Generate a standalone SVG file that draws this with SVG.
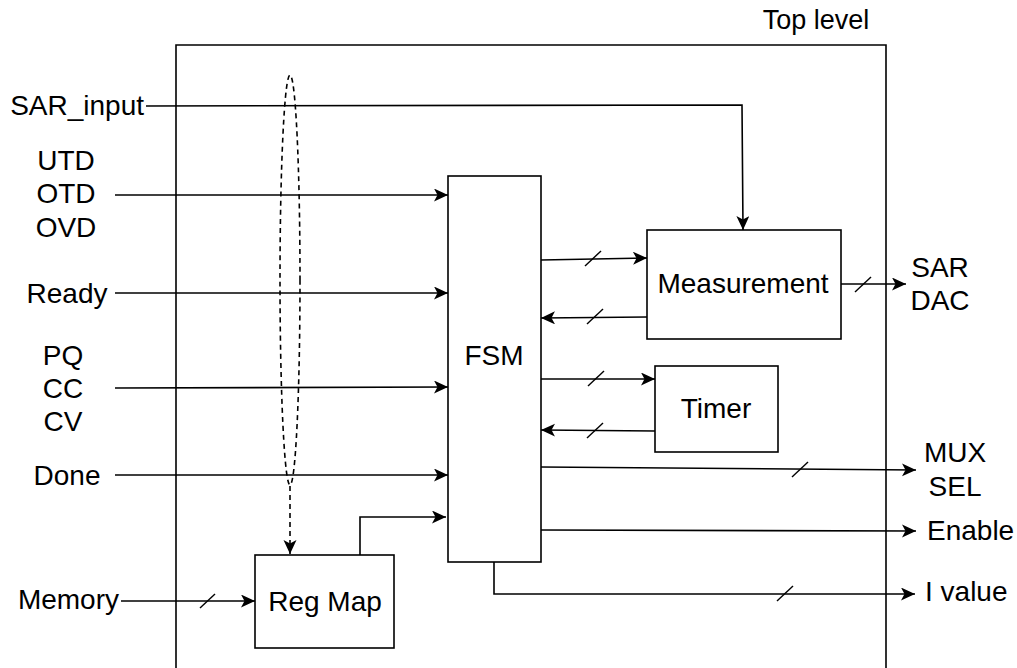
<svg xmlns="http://www.w3.org/2000/svg" width="1017" height="668" viewBox="0 0 1017 668">
  <style>
    .box { fill: #ffffff; stroke: #000000; stroke-width: 1.6; }
    .frame { fill: none; stroke: #000000; stroke-width: 1.6; }
    .wire { fill: none; stroke: #000000; stroke-width: 1.6; }
    .arrow { marker-end: url(#head); }
    .dash { stroke-dasharray: 5 4; }
    .bus { stroke: #000000; stroke-width: 1.4; }
    text { font-family: "Liberation Sans", Arial, sans-serif; font-size: 28px; fill: #000000; }
    .c { text-anchor: middle; }
    .e { text-anchor: end; }
  </style>
  <defs>
    <marker id="head" markerUnits="userSpaceOnUse" markerWidth="15" markerHeight="14" refX="14" refY="6.5" orient="auto">
      <path d="M0,0 L14,6.5 L0,13 L3.5,6.5 Z" fill="#000000"/>
    </marker>
  </defs>

  <!-- enclosing top-level block -->
  <g id="top-level">
    <path class="frame" d="M176,668 L176,45 L886,45 L886,668"/>
    <text class="c" x="816" y="29" style="font-size:27px">Top level</text>
  </g>

  <!-- external port labels -->
  <g id="port-sar-input"><text class="e" x="144" y="115">SAR_input</text></g>
  <g id="port-temp">
    <text class="c" x="66" y="170">UTD</text>
    <text class="c" x="66" y="203">OTD</text>
    <text class="c" x="66" y="237">OVD</text>
  </g>
  <g id="port-ready"><text class="c" x="67" y="303">Ready</text></g>
  <g id="port-mode">
    <text class="c" x="63" y="365">PQ</text>
    <text class="c" x="63" y="398">CC</text>
    <text class="c" x="63" y="431">CV</text>
  </g>
  <g id="port-done"><text class="c" x="67" y="485">Done</text></g>
  <g id="port-memory"><text class="e" x="119" y="609">Memory</text></g>
  <g id="port-sar-dac">
    <text class="c" x="940" y="277">SAR</text>
    <text class="c" x="940" y="310">DAC</text>
  </g>
  <g id="port-mux-sel">
    <text class="c" x="955" y="462">MUX</text>
    <text class="c" x="955" y="496">SEL</text>
  </g>
  <g id="port-enable"><text x="927" y="540">Enable</text></g>
  <g id="port-ivalue"><text x="925" y="601">I value</text></g>

  <!-- internal blocks -->
  <g id="fsm">
    <rect class="box" x="448" y="176" width="93" height="386"/>
    <text class="c" x="494" y="365">FSM</text>
  </g>
  <g id="measurement">
    <rect class="box" x="647" y="230" width="194" height="109"/>
    <text class="c" x="743" y="293">Measurement</text>
  </g>
  <g id="timer">
    <rect class="box" x="655" y="366" width="123" height="86"/>
    <text class="c" x="716" y="418">Timer</text>
  </g>
  <g id="reg-map">
    <rect class="box" x="255" y="555" width="139" height="93"/>
    <text class="c" x="325" y="611">Reg Map</text>
  </g>

  <!-- connectors -->
  <g id="connectors">
    <!-- dashed register-access bundle -->
    <ellipse class="wire dash" cx="290" cy="280" rx="10" ry="205"/>
    <line class="wire dash arrow" x1="290" y1="486" x2="290" y2="554"/>

    <polyline class="wire arrow" points="146,106 742,105 743,230"/>
    <line class="wire arrow" x1="115" y1="195" x2="448" y2="195"/>
    <line class="wire arrow" x1="115" y1="293" x2="448" y2="293"/>
    <line class="wire arrow" x1="115" y1="388" x2="448" y2="387"/>
    <line class="wire arrow" x1="115" y1="475" x2="448" y2="475"/>
    <polyline class="wire arrow" points="360,555 360,517 446,517"/>
    <line class="wire arrow" x1="121" y1="601" x2="255" y2="601"/>

    <line class="wire arrow" x1="541" y1="260" x2="647" y2="258"/>
    <line class="wire arrow" x1="647" y1="317" x2="541" y2="318"/>
    <line class="wire arrow" x1="841" y1="284" x2="906" y2="284"/>
    <line class="wire arrow" x1="541" y1="379" x2="655" y2="379"/>
    <line class="wire arrow" x1="655" y1="431" x2="541" y2="430"/>
    <line class="wire arrow" x1="541" y1="467" x2="916" y2="470"/>
    <line class="wire arrow" x1="541" y1="530" x2="916" y2="531"/>
    <polyline class="wire arrow" points="494,562 494,594 915,594"/>

    <!-- bus width ticks -->
    <line class="bus" x1="585" y1="266" x2="601" y2="251"/>
    <line class="bus" x1="587" y1="324" x2="603" y2="309"/>
    <line class="bus" x1="855" y1="292" x2="871" y2="277"/>
    <line class="bus" x1="588" y1="386" x2="604" y2="371"/>
    <line class="bus" x1="587" y1="438" x2="603" y2="423"/>
    <line class="bus" x1="792" y1="477" x2="808" y2="462"/>
    <line class="bus" x1="777" y1="601" x2="793" y2="586"/>
    <line class="bus" x1="200" y1="608" x2="215" y2="594"/>
  </g>
</svg>
